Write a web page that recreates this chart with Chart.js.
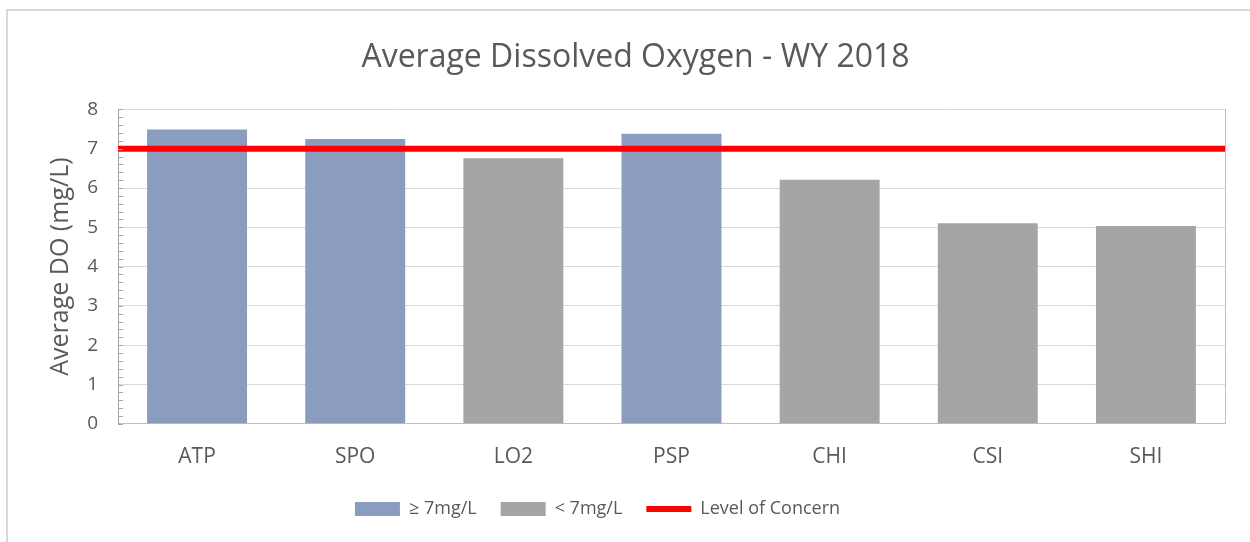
<!DOCTYPE html>
<html>
<head>
<meta charset="utf-8">
<script src="https://cdn.jsdelivr.net/npm/chart.js@4/dist/chart.umd.min.js"></script>
<style>
  html, body { margin: 0; padding: 0; background: #fff; overflow: hidden; }
  #frame { position: absolute; left: 6px; top: 9px; width: 1300px; height: 600px;
           border-left: 2px solid #d9d9d9; border-top: 2px solid #d9d9d9; }
  #myChart { position: absolute; left: 0; top: 0; }
</style>
</head>
<body>
<div id="frame"></div>
<canvas id="myChart" width="1250" height="542"></canvas>
<script>
'use strict'

// sites and their average DO for WY 2018
var sites = ["ATP", "SPO", "LO2", "PSP", "CHI", "CSI", "SHI"];
var avgDO = [7.49, 7.25, 6.76, 7.38, 6.21, 5.10, 5.03];
var concernLevel = 7;
var yTicks = [0, 1, 2, 3, 4, 5, 6, 7, 8];

var blue = "#8a9dbf";
var grey = "#a5a5a5";
var textColor = "#595959";

Chart.defaults.font.family = "'Open Sans', sans-serif";
Chart.defaults.color = textColor;

// split the values in two series so each gets its own legend entry
var aboveLevel = avgDO.map(function(v) { return v >= concernLevel ? v : null; });
var belowLevel = avgDO.map(function(v) { return v < concernLevel ? v : null; });

// small inside tick marks on the value axis, every 0.2
var minorTicks = {
  id: 'minorTicks',
  afterDraw: function(chart) {
    var y = chart.scales.y;
    var c = chart.ctx;
    c.save();
    c.strokeStyle = "#a6a6a6";
    c.lineWidth = 1;
    for (var i = 0; i <= 40; i++) {
      var py = Math.round(y.getPixelForValue(i / 5)) + 0.5;
      c.beginPath();
      c.moveTo(y.right, py);
      c.lineTo(y.right + 5, py);
      c.stroke();
    }
    c.restore();
  }
};

// legend in the original sits a bit left of centre
var legendShift = {
  id: 'legendShift',
  afterLayout: function(chart) {
    chart.legend.left -= 38;
    chart.legend.right -= 38;
  }
};

var ctx = document.getElementById("myChart");

var chart = new Chart(ctx, {
  type: 'bar',
  data: {
    labels: sites,
    datasets: [{
      label: "\u2265 7mg/L",
      data: aboveLevel,
      backgroundColor: blue,
      borderWidth: 0,
      pointStyle: 'rect',
      grouped: false,
      barPercentage: 0.632,
      categoryPercentage: 1,
      order: 1
    },
    {
      label: "< 7mg/L",
      data: belowLevel,
      backgroundColor: grey,
      borderWidth: 0,
      pointStyle: 'rect',
      grouped: false,
      barPercentage: 0.632,
      categoryPercentage: 1,
      order: 1
    },
    {
      type: 'line',
      label: "Level of Concern",
      data: [{x: 0, y: concernLevel}, {x: 1, y: concernLevel}],
      xAxisID: 'x2',
      borderColor: "#ff0000",
      backgroundColor: "#ff0000",
      borderWidth: 6,
      pointRadius: 0,
      pointStyle: 'line',
      fill: false,
      order: 0
    }]
  },
  options: {
    responsive: false,
    animation: false,
    layout: { padding: { left: 46, right: 25, top: 0, bottom: 14 } },
    plugins: {
      title: {
        display: true,
        text: "Average Dissolved Oxygen - WY 2018",
        font: { size: 32, weight: 'normal' },
        color: textColor,
        padding: { top: 39, bottom: 32 }
      },
      legend: {
        position: 'bottom',
        labels: {
          usePointStyle: true,
          pointStyleWidth: 45,
          boxHeight: 14,
          padding: 24,
          font: { size: 18 },
          color: textColor,
          sort: function(a, b) { return a.datasetIndex - b.datasetIndex; }
        }
      },
      tooltip: { enabled: false }
    },
    scales: {
      x: {
        grid: { display: false },
        border: { color: "#bfbfbf" },
        ticks: { padding: 13, font: { size: 21 }, color: textColor },
        afterFit: function(scale) { scale.height = scale.height - 7; }
      },
      x2: {
        type: 'linear',
        min: 0,
        max: 1,
        offset: false,
        display: false
      },
      y: {
        min: 0,
        max: 8,
        afterBuildTicks: function(scale) {
          scale.ticks = yTicks.map(function(v) { return { value: v }; });
        },
        afterFit: function(scale) { scale.width = 72; },
        grid: { color: "#d9d9d9", drawTicks: false },
        border: { color: "#a6a6a6", width: 1 },
        ticks: { padding: 20, font: { size: 19 }, color: textColor },
        title: {
          display: true,
          text: "Average DO (mg/L)",
          font: { size: 25 },
          color: textColor,
          padding: { top: 0, bottom: 0 }
        }
      },
      yRight: {
        position: 'right',
        min: 0,
        max: 8,
        afterFit: function(scale) { scale.width = 0; },
        grid: { display: false },
        border: { color: "#bfbfbf" },
        ticks: { display: false }
      }
    }
  },
  plugins: [minorTicks, legendShift]
});
</script>
</body>
</html>
